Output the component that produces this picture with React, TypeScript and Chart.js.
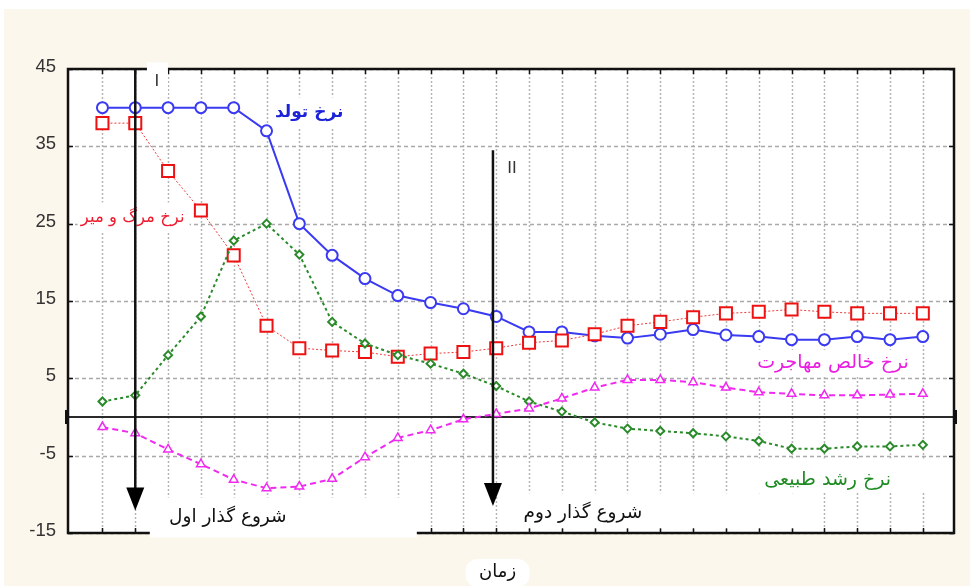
import React, { useEffect, useRef } from "react";
import { Chart, registerables } from "chart.js";

Chart.register(...registerables);

// ---- data ----
const PERIODS = [0, 1, 2, 3, 4, 5, 6, 7, 8, 9, 10, 11, 12, 13, 14, 15, 16, 17, 18, 19, 20, 21, 22, 23, 24, 25];
const BIRTH_RATE = [40, 40, 40, 40, 40, 37, 25, 20.9, 17.9, 15.7, 14.8, 14, 13, 11, 11, 10.5, 10.2, 10.7, 11.3, 10.6, 10.4, 10, 10, 10.4, 10, 10.4];
const DEATH_RATE = [38, 38, 31.8, 26.7, 20.9, 11.8, 8.9, 8.6, 8.4, 7.8, 8.2, 8.4, 8.9, 9.6, 9.9, 10.7, 11.8, 12.3, 12.9, 13.4, 13.6, 13.9, 13.6, 13.4, 13.4, 13.4];
const NATURAL_GROWTH = [2, 2.8, 8, 13, 22.8, 25, 21, 12.3, 9.5, 8, 6.9, 5.6, 4, 2, 0.7, -0.7, -1.5, -1.8, -2.1, -2.5, -3.1, -4.1, -4.1, -3.8, -3.8, -3.6];
const NET_MIGRATION = [-1.3, -2.1, -4.2, -6.1, -8.1, -9.2, -9, -8, -5.2, -2.7, -1.7, -0.3, 0.4, 1.1, 2.4, 3.8, 4.8, 4.8, 4.5, 3.8, 3.2, 3, 2.8, 2.8, 2.9, 3];
const Y_TICKS = [45, 35, 25, 15, 5, -5, -15];

// ---- annotations (in data units) ----
const ARROW_I = { x: 1, from: 45, to: -12.1 };
const ARROW_II = { x: 11.9, from: 34.5, to: -11.5 };

type Note = {
  text: string;
  x: number;
  y: number;
  color: string;
  font: string;
  box: [number, number, number, number]; // left, right, top, bottom offsets in px
};

const PERSIAN = '"DejaVu Sans", "Noto Sans", sans-serif';

const NOTES: Note[] = [
  { text: "I", x: 1.66, y: 43.4, color: "#333", font: '17px "Liberation Sans", sans-serif', box: [-10, 11, -19, 14] },
  { text: "II", x: 12.48, y: 32.2, color: "#333", font: '17px "Liberation Sans", sans-serif', box: [-7, 8, -12, 12] },
  { text: "نرخ تولد", x: 6.3, y: 39.4, color: "#1c22d8", font: `bold 17px ${PERSIAN}`, box: [-39, 39, -15, 15] },
  { text: "نرخ مرگ و میر", x: 0.92, y: 25.8, color: "#ee1c30", font: `16.5px ${PERSIAN}`, box: [-55, 57, -15, 15] },
  { text: "نرخ خالص مهاجرت", x: 22.26, y: 7.0, color: "#e81ee0", font: `19px ${PERSIAN}`, box: [-83, 82, -13, 13] },
  { text: "نرخ رشد طبیعی", x: 22.1, y: -8.2, color: "#1e8a22", font: `19px ${PERSIAN}`, box: [-83, 102, -22, 12] },
  { text: "شروع گذار اول", x: 3.82, y: -13.0, color: "#111", font: `18.5px ${PERSIAN}`, box: [-78, 189, -20, 20] },
  { text: "شروع گذار دوم", x: 14.64, y: -12.45, color: "#111", font: `18.5px ${PERSIAN}`, box: [-78, 222, -20, 15] },
];

const X_TITLE = "زمان";

const framePlugin = {
  id: "frame",
  beforeDraw(chart: any) {
    const { ctx, width, height, chartArea: a } = chart;
    ctx.save();
    ctx.fillStyle = "#ffffff";
    ctx.fillRect(0, 0, width, height);
    ctx.fillStyle = "#fcf7ec";
    ctx.fillRect(4, 9, width - 4, height - 9);
    ctx.fillStyle = "#ffffff";
    ctx.fillRect(a.left, a.top, a.right - a.left, a.bottom - a.top);
    ctx.restore();
  },
  beforeDatasetsDraw(chart: any) {
    const { ctx, chartArea: a, scales } = chart;
    const xs = scales.x;
    const ys = scales.y;
    ctx.save();

    // vertical dotted grid
    ctx.strokeStyle = "#b5b5b5";
    ctx.lineWidth = 1.5;
    ctx.setLineDash([2, 2]);
    PERIODS.forEach((p) => {
      const px = Math.round(xs.getPixelForValue(p)) + 0.5;
      ctx.beginPath();
      ctx.moveTo(px, a.top);
      ctx.lineTo(px, a.bottom);
      ctx.stroke();
    });
    // horizontal dashed grid
    ctx.strokeStyle = "#a9a9a9";
    ctx.setLineDash([4, 3]);
    Y_TICKS.forEach((t) => {
      const py = Math.round(ys.getPixelForValue(t)) + 0.5;
      ctx.beginPath();
      ctx.moveTo(a.left, py);
      ctx.lineTo(a.right, py);
      ctx.stroke();
    });
    ctx.setLineDash([]);

    // zero line
    const y0 = ys.getPixelForValue(0);
    ctx.strokeStyle = "#2a2a2a";
    ctx.lineWidth = 2;
    ctx.beginPath();
    ctx.moveTo(a.left, y0);
    ctx.lineTo(a.right, y0);
    ctx.stroke();
    ctx.fillStyle = "#111";
    ctx.fillRect(a.left - 3, y0 - 7, 4, 14);
    ctx.fillRect(a.right - 1, y0 - 7, 4, 14);

    // frame
    ctx.strokeStyle = "#111";
    ctx.lineWidth = 2.5;
    ctx.strokeRect(a.left, a.top, a.right - a.left, a.bottom - a.top);

    // tick marks
    ctx.lineWidth = 1.5;
    PERIODS.forEach((p) => {
      const px = Math.round(xs.getPixelForValue(p)) + 0.5;
      ctx.beginPath();
      ctx.moveTo(px, a.top);
      ctx.lineTo(px, a.top + 5);
      ctx.moveTo(px, a.bottom);
      ctx.lineTo(px, a.bottom - 5);
      ctx.stroke();
    });
    Y_TICKS.forEach((t) => {
      const py = Math.round(ys.getPixelForValue(t)) + 0.5;
      ctx.beginPath();
      ctx.moveTo(a.left, py);
      ctx.lineTo(a.left + 5, py);
      ctx.moveTo(a.right, py);
      ctx.lineTo(a.right - 5, py);
      ctx.stroke();
    });

    // y tick labels
    ctx.fillStyle = "#333333";
    ctx.font = '18.5px "Liberation Sans", Arial, sans-serif';
    ctx.textAlign = "right";
    ctx.textBaseline = "middle";
    Y_TICKS.forEach((t) => {
      ctx.fillText(String(t), a.left - 12, ys.getPixelForValue(t) - 2);
    });

    // annotation notes with white boxes
    NOTES.forEach((n) => {
      const cx = xs.getPixelForValue(n.x);
      const cy = ys.getPixelForValue(n.y);
      ctx.fillStyle = "#ffffff";
      ctx.fillRect(cx + n.box[0], cy + n.box[2], n.box[1] - n.box[0], n.box[3] - n.box[2]);
    });
    NOTES.forEach((n) => {
      const cx = xs.getPixelForValue(n.x);
      const cy = ys.getPixelForValue(n.y);
      ctx.fillStyle = n.color;
      ctx.font = n.font;
      ctx.textAlign = "center";
      ctx.textBaseline = "middle";
      (ctx as any).direction = /[\u0600-\u06FF]/.test(n.text) ? "rtl" : "ltr";
      ctx.fillText(n.text, cx, cy);
    });

    // x title pill
    const tx = (xs.getPixelForValue(PERIODS[0]) + xs.getPixelForValue(PERIODS[PERIODS.length - 1])) / 2 - 15;
    const ty = a.bottom + 39;
    ctx.fillStyle = "#ffffff";
    ctx.beginPath();
    (ctx as any).roundRect(tx - 32, ty - 13, 64, 28, 12);
    ctx.fill();
    ctx.fillStyle = "#111";
    ctx.font = `18px ${PERSIAN}`;
    (ctx as any).direction = "rtl";
    ctx.textAlign = "center";
    ctx.fillText(X_TITLE, tx, ty);
    ctx.restore();
  },
  afterDatasetsDraw(chart: any) {
    const { ctx, scales } = chart;
    const xs = scales.x;
    const ys = scales.y;
    ctx.save();
    [ARROW_I, ARROW_II].forEach((ar) => {
      const px = xs.getPixelForValue(ar.x);
      const y1 = ys.getPixelForValue(ar.from);
      const y2 = ys.getPixelForValue(ar.to);
      ctx.strokeStyle = "#111";
      ctx.lineWidth = 2.5;
      ctx.beginPath();
      ctx.moveTo(px, y1);
      ctx.lineTo(px, y2 - 20);
      ctx.stroke();
      ctx.fillStyle = "#000";
      ctx.beginPath();
      ctx.moveTo(px - 9, y2 - 23);
      ctx.lineTo(px + 9, y2 - 23);
      ctx.lineTo(px, y2);
      ctx.closePath();
      ctx.fill();
    });
    ctx.restore();
  },
};

export default function App() {
  const ref = useRef<HTMLCanvasElement | null>(null);

  useEffect(() => {
    if (!ref.current) return;
    const toPts = (vals: number[]) => PERIODS.map((p, i) => ({ x: p, y: vals[i] }));
    const chart = new Chart(ref.current, {
      type: "line",
      data: {
        datasets: [
          {
            label: "نرخ خالص مهاجرت",
            data: toPts(NET_MIGRATION),
            borderColor: "#f02af0",
            borderWidth: 2,
            borderDash: [6, 4],
            pointStyle: "triangle",
            pointRadius: 5,
            pointBorderWidth: 1.5,
            pointBackgroundColor: "#ffffff",
            pointBorderColor: "#f02af0",
            tension: 0,
          },
          {
            label: "نرخ رشد طبیعی",
            data: toPts(NATURAL_GROWTH),
            borderColor: "#2a8a2a",
            borderWidth: 2,
            borderDash: [3, 3],
            pointStyle: "rectRot",
            pointRadius: 4,
            pointBorderWidth: 2,
            pointBackgroundColor: "#ffffff",
            pointBorderColor: "#2a8a2a",
            tension: 0,
          },
          {
            label: "نرخ مرگ و میر",
            data: toPts(DEATH_RATE),
            borderColor: "#f03a3a",
            borderWidth: 1,
            borderDash: [2, 2],
            pointStyle: "rect",
            pointRadius: 8.5,
            pointBorderWidth: 2,
            pointBackgroundColor: "#ffffff",
            pointBorderColor: "#ee1111",
            tension: 0,
          },
          {
            label: "نرخ تولد",
            data: toPts(BIRTH_RATE),
            borderColor: "#3a3af2",
            borderWidth: 2,
            pointStyle: "circle",
            pointRadius: 5.5,
            pointBorderWidth: 2,
            pointBackgroundColor: "#ffffff",
            pointBorderColor: "#3a3af2",
            tension: 0,
          },
        ],
      },
      options: {
        animation: false,
        responsive: false,
        maintainAspectRatio: false,
        layout: { padding: { left: 68, top: 69, right: 16, bottom: 53 } },
        scales: {
          x: { type: "linear", min: -1.05, max: 25.95, display: false },
          y: { type: "linear", min: -15, max: 45, display: false },
        },
        plugins: {
          legend: { display: false },
          tooltip: { enabled: false },
        },
      },
      plugins: [framePlugin],
    });
    return () => chart.destroy();
  }, []);

  return (
    <div style={{ position: "absolute", left: 0, top: 0, width: 970, height: 586 }}>
      <canvas ref={ref} width={970} height={586} style={{ width: 970, height: 586 }} />
    </div>
  );
}
